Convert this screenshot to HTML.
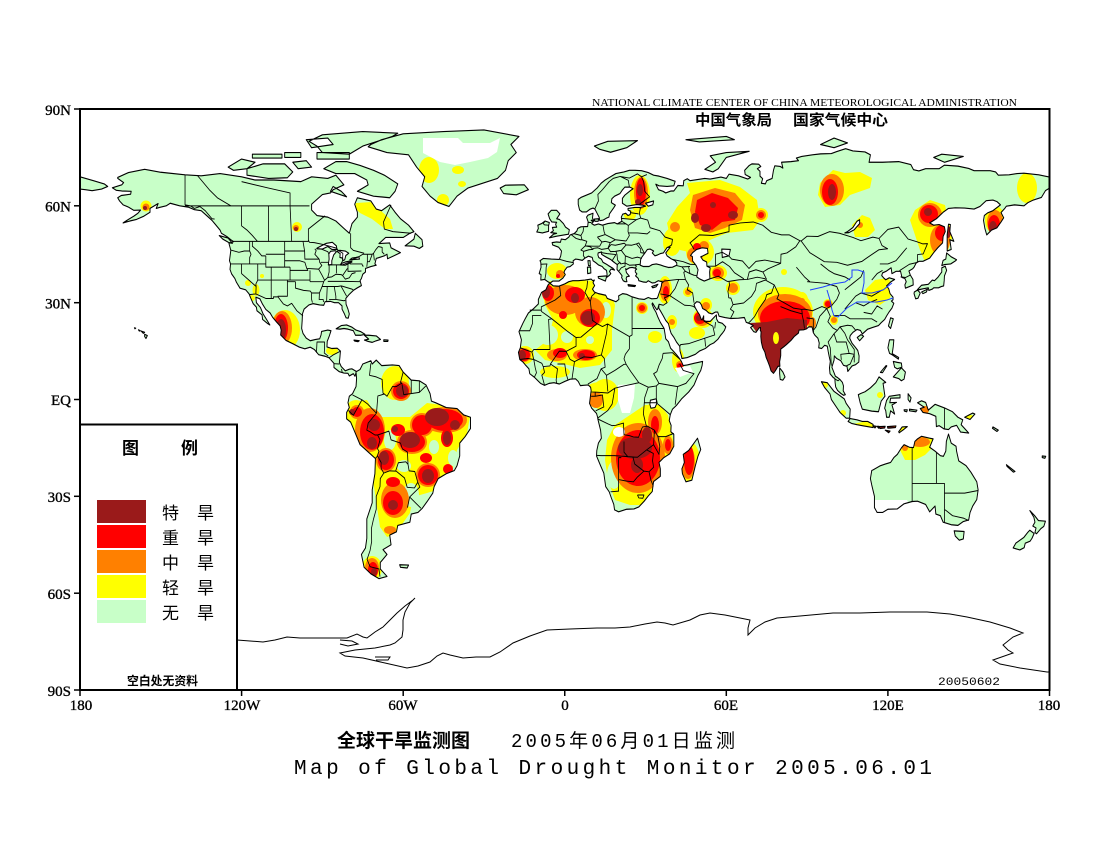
<!DOCTYPE html>
<html><head><meta charset="utf-8"><style>html,body{margin:0;padding:0;background:#fff}svg{display:block}</style></head>
<body>
<svg xmlns="http://www.w3.org/2000/svg" xmlns:xlink="http://www.w3.org/1999/xlink" width="1100" height="850" viewBox="0 0 1100 850">
<defs>
<path id="land" d="
M-5.4,36.1 -6.3,36.5 -7.5,37.2 -8.9,37 -8.8,38.7 -9.5,39 -8.8,41 -8.9,42.5 -9.2,43 -8,43.7 -5,43.5 -2,43.4 -1.5,44.5 -1.2,46 -2.3,47.2 -4.5,47.9 -4.7,48.6 -3,48.8 -1.6,48.7 -1.3,49.7 0.2,49.5 1.5,50.3 2,51 3.5,51.4 4.5,52.2 4.8,53 6,53.5 8.5,53.6 8.7,55 8.1,56.5 8.6,57.1 10.5,57.7 10.3,56.2 10.8,55.4 10,54.5 11,54 12.5,54.4 14,54 16,54.5 18.5,54.8 19.5,54.4 21.2,55.2 21,56.5 21.5,57.4 22.6,57.7 23.5,57 24.3,57.3 24.5,58.3 23.5,58.7 23.5,59.2 26,59.5 28,59.5 30,59.9 29,60.2 26.8,60.4 23,59.9 21.4,60.8 21.4,62.3 22.3,63.3 24.5,64.8 25.4,65.3 24.2,65.8 22.3,65.8 21.3,64.8 20.5,63.8 18.5,63 17.5,62.2 17.3,61 18.8,60.2 18.2,59.4 16.6,57.5 16.4,56.5 15.5,56.2 14.3,55.6 13,55.4 12.8,56.4 12,57.7 11.2,59 10.5,59.3 9.5,59 8,58.1 6.5,58.1 5.5,58.7 5,60.5 5,62 6,62.6 8,63.3 10,64 12,65.5 13.5,67 15,68 17,69 19,70 22,70.5 24,71 26,71 28.5,70.9 31,70.3 33,69.5 35,69.2 38,68.5 41,67.6 40.5,66.2 38,66 35,66.2 33.8,66.7 34.8,65 36.5,64.5 37.5,64 39.5,64.6 40.5,64.6 42,66.3 44,66.2 44.2,67.8 45.5,68.4 46.5,67.8 52,68.5 54,68.3 58,68.9 60,68.5 61,69.8 64.5,69.3 68,68.3 69,68.8 67,69.7 66.8,71 68.5,72.5 69.5,73 72,72.9 72.8,72.2 71.5,71.5 72.5,70.7 72.5,69.2 73.5,68.4 73,67 74.5,66.8 75,67.8 77,68.5 77.5,71 78,72.4 80,72.2 81,71.7 80.5,73.5 84,73.7 86.8,74 86,74.8 88,75.3 92,75.8 95,76.1 99,76.2 101,76.8 104.3,77.7 107,77 111.5,76.7 113.5,75.8 113,73.5 118,73.5 124,73.7 128.5,72.8 129.5,71.2 131.5,70.8 134,71.5 139,71.5 141,72.6 146,72.3 150,71.6 152,70.9 158,70.9 160,70.5 161,69.5 165,69.6 168,70 170.5,70.1 176,69.6 180,68.9 180,65.5 178.5,64.7 177,62.6 174,61.8 172,61 170.5,60 167,60.3 164,59.9 163.3,59.1 162,57.9 163,56.3 162,55 160.5,53.2 158.5,52.5 156.7,51 156,53 155.5,55.5 155.8,57 157,57.8 159,58.5 161.8,60.3 160.5,61.3 159,61.8 156.5,61.6 154.2,59.8 152,59 148.5,59.3 145,59.4 142.5,59.2 140.5,58 138,56 135.5,54.7 137,54 139,54.2 141,53.5 141.3,52 140.5,50.5 140.3,48.5 138.5,47 137,45.5 135.5,43.8 133,42.8 131.5,42.8 130.5,42.3 129.7,41 129.2,40.5 127.8,39.8 128.3,38.6 129.3,37.2 129.4,35.5 128,35 126.5,34.5 126.3,35.5 126.8,36.5 126.3,37.5 125.2,37.8 125,38.6 124.7,39.7 123,39.7 121.5,39 121.2,40.8 119.5,39.8 118,39.2 117.7,38.4 118.5,37.6 119.2,37.1 120.5,37.7 122.5,37.2 121,36.4 119.5,35.2 120.3,34.3 120.8,32.8 121.9,31.7 121.9,30.9 121.3,30.5 122.2,29.8 121.5,28.3 120.5,27.2 119.6,26 118.8,24.8 117.5,23.8 116.5,22.9 114.2,22.3 112.5,21.8 110.5,20.3 109.8,21.4 108.5,21.7 107,20.8 106,19.8 105.8,19 106.7,17.4 107.8,16.3 108.8,15.2 109.3,13.5 109.2,11.6 108,10.8 106.7,10.4 105.1,8.7 104.8,10.3 103.5,10.6 102.5,12 101,12.7 100.1,13.5 100,12.2 99.2,10 100,8.3 100.5,7.2 101.3,6.8 102.2,6.2 103.1,5.3 103.5,4.2 103.4,2.7 104.2,1.5 103.5,1.3 102.5,1.9 101.3,2.8 100.6,3.9 100.4,5.2 100.3,6.5 99.7,6.8 98.5,8 98.3,9.8 98.6,11.8 98.2,13.3 97.8,15 97.5,16.5 96.5,16.8 95.4,15.8 94.3,16 94.5,17.5 94,19 93,19.8 92.3,20.7 92,21.9 91.8,22.5 90.6,22.5 89.8,21.9 88.7,21.6 87,21.5 86.8,20.6 85.2,19.5 84,18.3 82.3,17 81.3,16.3 80.2,15.6 80.2,13.6 79.8,11.7 79.9,10.3 79.2,10.3 78.2,8.9 77.5,8.1 76.6,8.9 76,10.5 75.4,11.8 74.8,13 74.3,14.7 73.5,16 73,17.8 72.8,19.5 72.9,21 72.6,21.4 72.7,22.3 72.2,22.2 71,20.8 70.2,21 69,22.3 70,22.9 68.7,23.5 67.4,23.9 66.7,25.4 64.5,25.2 61.5,25.1 59.5,25.4 57.3,25.8 56.8,27.1 56,27.1 54.7,26.5 53.5,26.8 52.5,27.6 51.2,28.2 50.7,29.4 50.1,30.1 49,30.3 48.5,29.9 48,29.5 48.4,28.5 49.3,27.2 50.1,26.2 50.6,25 51,24.6 51.6,25.9 51.6,24.5 52.5,24.2 54,24.2 55.5,25.5 56.3,26.2 56.4,24.9 57,24 58.5,23.6 59.8,22.5 59.3,21.4 58.5,20.5 57.8,19.8 56.8,18.6 55.3,17.5 54,17 52.2,15.8 50,15 48.5,14 45.5,13 43.5,12.7 43.3,13.5 42.8,15 42.7,16.5 41.5,17.8 40.5,19.3 39.5,20.5 39,21.8 38.5,23.5 37.5,24.5 36.6,25.9 35.5,27.5 34.9,28.3 35,29.5 34.5,28 34.2,27.8 33.6,28.5 32.6,29.9 32.4,29.6 33,28.3 33.9,27 34.5,25.7 35.5,23.9 36.9,22 37.2,20.5 37.5,18.8 38.5,17.9 39.3,15.9 40.3,15 41.5,13.9 42.5,12.8 43.3,11.8 44,10.5 45.5,10.7 48,11.2 51.2,11.8 51,10.5 50.5,9 49.5,7.5 48,4.5 46,2.3 43.5,0.3 41.5,-1.8 40,-3 39.2,-4.7 38.8,-6.5 39.5,-8 39.4,-10 40.5,-10.8 40.5,-14.5 39,-16.8 36.8,-18 35,-19.5 35.5,-21.5 35.5,-23.8 33,-25.4 32.8,-26.5 32.5,-28.5 31,-29.9 29.5,-31.5 27.5,-33.3 25.7,-33.9 23,-34 20,-34.8 18.5,-34.2 18.2,-32.5 17.3,-30.5 16.5,-28.6 15.2,-27 14.5,-22.8 13.3,-20.5 11.8,-17.5 11.9,-15.8 12.5,-13.5 13.6,-12 13.3,-9.5 12.3,-6.1 12.2,-5.5 11.8,-4.3 10,-2.7 9.2,-1.2 9.5,0.8 9.8,2.8 9.6,3.8 8.7,4.5 7,4.4 5.8,4.3 5,5.6 4,6.4 2,6.3 0,5.6 -2,4.8 -4,5.2 -5.8,5 -7.5,4.4 -9,5 -11.3,6.9 -13,8 -13.3,9.5 -14.7,10.8 -15.5,11.6 -16.7,12.4 -17.2,14.6 -16.5,16 -16.1,18.5 -16.5,19.7 -17,21 -15.5,23.7 -14.7,25 -13.5,26.8 -11.5,28.2 -9.8,29.6 -9.8,31 -8.6,33.2 -7,34 -6.6,34.8 -6.2,35.5 -5.9,35.8 -5.3,35.9 -4.3,35.2 -2.2,35.1 0,35.8 1.5,36.5 3,36.8 5,36.8 7.5,37 9.8,37.3 10.4,36.8 11,37 10.5,36.2 11.1,35.3 10.3,34.2 11,33.3 12.5,32.8 15.2,32.3 15.8,31.3 19,30.3 20.1,31 20,32.1 21.5,32.8 23,32.6 25,31.8 27.5,31.2 29.5,31 31,31.6 32.3,31.2 34.2,31.3 34.5,31.6 35,32.9 35.5,34 35.9,35.3 36,36 36.2,36.6 35.5,36.6 34.7,36.8 33.5,36.2 32.5,36.1 31,36.8 30.3,36.3 29.2,36.4 27.5,36.8 27.3,37.5 26.3,38.3 26.8,38.9 26.2,39.5 26.2,40.1 26.7,40.4 26.2,40.7 25,40.9 24,40.8 23,40.3 22.6,40.5 22.9,39.3 24,38.2 23,38 22.8,37.5 23.1,36.5 22.4,36.5 21.7,36.8 21.1,37.8 21.3,38.3 20.7,39 20,39.7 19.4,40.3 19.5,41.8 18.5,42.4 17,43.4 15.2,44.2 14,44.8 13.6,45.1 13.7,45.7 12.4,45.4 12.3,44.8 12.6,44 13.6,43.5 14.2,42.5 15.5,41.9 16.2,41.5 17.8,40.7 18.5,40.1 17.2,40.4 16.6,39.7 17.1,39 16.5,38.4 15.7,37.9 15.7,38.9 15.5,40 14.5,40.6 13.9,41.2 12.5,41.7 11.5,42.4 10.5,43 10.2,44 8.8,44.4 7.5,43.8 6.5,43.1 5,43.4 4,43.5 3.1,43 3.2,42 2,41.2 0.9,41 0,40 -0.3,39.4 0.2,38.7 -0.7,37.6 -2.1,36.7 -4.4,36.7 Z
M-166,68.8 -162,70.3 -156,71.3 -150,70.4 -141,69.6 -135,69.3 -128,70 -120,69 -115,68 -108,68 -98,67.5 -94,69 -88,68.5 -85,69.5 -82,66.5 -86,65 -87,64 -90,63.5 -94,60.5 -94,58.7 -92,57 -88,56.5 -85,55.3 -82,53 -80,51.5 -79,54.5 -77,56.5 -77,58 -78,60.5 -77,62.5 -72,61.5 -70,59 -68,58.5 -65,60.3 -63,58 -61,56 -58,54 -56,52 -57.5,51.5 -60,50.2 -66.5,50.2 -69,48.3 -65,48.5 -64.5,47 -61,45.5 -63.5,44.5 -65.8,43.6 -66,45 -67,44.5 -70,43.7 -70.5,42 -70,41.6 -72,41.2 -74,40.6 -74,39.5 -75,38.8 -75.5,37.5 -76,36.8 -75.5,35.3 -77,34.6 -78.5,33.8 -80,32.6 -81.3,31.3 -81.2,29.5 -80.5,28 -80,26.5 -80.4,25.2 -81.2,25.3 -81.8,26.5 -82.7,28 -82.7,29 -84,30 -85.5,30 -87,30.4 -89,30.3 -89.5,29.2 -91,29.3 -93.5,29.7 -95,29.3 -96.8,28 -97.4,26.5 -97.5,24.5 -97.7,22 -97.2,20.5 -96,19 -94.5,18.2 -92.5,18.6 -91,18.8 -90.5,20 -90.3,21.1 -88,21.5 -86.8,21.3 -87.5,19.5 -88.2,18 -88.3,16.3 -86.5,15.8 -84.5,15.9 -83.3,15 -83.5,13 -83.7,11.5 -83,10.2 -81.5,8.9 -80,9.4 -79,9.5 -77.4,8.7 -77.9,7.2 -78.5,8 -80,7.3 -80.5,8.1 -82,8.2 -83.7,8.6 -85.7,9.9 -85.7,11.2 -87.5,12.9 -89,13.4 -91.4,13.9 -93,15.5 -94.5,16.2 -96.5,15.7 -98.5,16.2 -101,17.3 -103.5,18.3 -105.5,20 -105.3,21.5 -105.7,22.8 -107,24 -108.5,25.5 -109.4,26.8 -111,27.9 -112.2,29.5 -113.2,31.2 -114.7,31.7 -114.5,30 -113,28.5 -112,26.5 -110.5,24.5 -109.5,23.1 -110.3,23.5 -112.2,24.8 -112.4,26.2 -114.3,27.5 -114.5,28.6 -115.7,29.7 -116.7,31.6 -117.2,32.7 -118.5,34 -120.6,34.5 -121.9,36.3 -122.5,37.5 -123.7,38.9 -124.3,40.3 -124.1,42 -124.5,43 -124,46.2 -124.7,48.4 -123,48.9 -124,49.5 -125.5,50.5 -127.5,51.5 -128,52.5 -130,54.5 -131,55.5 -133,57 -135,58.5 -137.5,58.8 -139.8,59.6 -143,60 -146.5,60.8 -148,60 -150.5,59.5 -151.7,59.2 -151,60.7 -154,59.2 -154,58 -156.5,56.7 -159,55.8 -161.5,55.3 -164,54.7 -162,55.8 -160,56.8 -158.5,57.7 -157.5,58.7 -160,58.6 -162,59.6 -164,60.3 -165.3,61.5 -166,62.5 -164.7,63.2 -161.2,63.6 -161,64.5 -164.5,64.6 -166.5,64.8 -168,65.6 -164.5,66.5 -163.8,67.2 -166,68.5 Z
M-77.5,8.6 -76,9.3 -75,11 -72,12 -71.5,11 -70,12.2 -68,10.5 -64,10.7 -61.5,10.5 -60,8.5 -57,6 -54,5.8 -51.5,4.5 -50,1.8 -49.5,-0.5 -48,-1 -44,-2.5 -40,-2.8 -37.5,-4.8 -35,-5.5 -35,-9 -37,-11.5 -39,-13.5 -39,-17.5 -40,-20.5 -41,-22 -44,-23 -47,-24.5 -48.5,-27 -49,-29 -51,-31.5 -53,-33.8 -54.5,-35 -57,-35.5 -57.5,-38 -62,-39 -62.5,-41 -65,-42 -64.5,-45 -67.5,-46.5 -66,-48 -68.5,-50.5 -68.5,-52.5 -66,-54.8 -69,-55.5 -72,-54 -74.5,-52 -75.5,-48 -74,-46 -73.5,-43 -73.5,-39 -73.5,-37 -71.5,-32 -71.5,-28 -70.5,-23 -70.3,-18.3 -72,-17 -76,-14 -78,-10 -79.5,-7 -81,-6 -81,-4 -80,-2.5 -80.5,-1 -80,1 -78.8,1.8 -77.5,4 -77.3,6.5 Z
M-180,69 -175,67.8 -171,66.8 -169.7,66 -172,65.2 -175.5,64.7 -178,65 -180,65.2 Z
M-81,73.7 -76,72.5 -71,71 -67,69.5 -62,66.8 -63,64.5 -65,62.5 -71,63 -77,64.5 -73,66.5 -73.5,68 -78,70 -85,70 -89.5,71.5 -85,73.7 Z
M-118,71.5 -112,73 -104,73 -101,70.5 -103,68.7 -110,68.5 -118,69.5 Z
M-125,72 -120,74.5 -115,73.5 -118,71.5 -123,71 Z
M-90,76.5 -80,76 -75,78.5 -64,81.5 -62,82.5 -75,83 -90,82 -95,80 -92,78.5 Z
M-92,76.5 -80,76.5 -80,74.5 -92,74.5 Z
M-116,76 -105,76 -105,74.8 -116,74.8 Z
M-101,73.5 -96,74 -94,72 -99,71.5 Z
M-96,80.5 -88,81 -86,79 -94,78 Z
M-104,76.5 -98,76.5 -98,75 -104,75 Z
M-87,64.5 -81,62.8 -83,64.5 -86,66 Z
M-59.3,47.6 -56,49.7 -55.5,51.5 -53,49.5 -52.7,47.5 -54,46.8 -56,47.5 Z
M-128.3,50.8 -125,50 -123.4,48.4 -124.7,48.6 -127,49.7 Z
M-73,78.3 -66,76.5 -58,75.8 -55,72 -52,69 -53,66 -50,63 -47,61 -43,59.8 -40,63 -36,65.5 -25,68.5 -22,71 -21,74 -18,76.5 -20,79 -17,81.5 -30,83.5 -45,83 -60,82.3 -68,80.5 -72,79 Z
M-24,65.5 -22,66.4 -15,66.5 -13.5,65 -18,63.4 -22.7,63.8 Z
M-84.9,21.9 -83,22.9 -81,23.1 -79,22.4 -77.5,21.5 -75.7,21 -74.2,20.2 -75.8,19.9 -77.7,19.9 -78.5,21.3 -80.5,21.8 -82,22 -83.5,21.8 Z
M-74.4,19.9 -72.8,19.9 -70,19.7 -68.4,18.6 -70,18.2 -71.5,17.7 -73,18 -74.4,18.4 -72.8,18.7 Z
M-78.3,18.4 -76.3,18.2 -76.8,17.9 -78,18.1 Z
M-67.2,18.5 -65.6,18.4 -65.7,18 -67.2,18 Z
M-156,20.2 -155,19.8 -155.5,18.9 -156,19.5 Z M-157.3,21.2 -156,20.8 -156.5,20.5 Z M-158.3,21.6 -157.6,21.3 -158,21.2 Z M-159.8,22.2 -159.3,22.1 -159.6,21.9 Z
M-61.3,-51.2 -58,-51.3 -58.5,-52.2 -61,-52 Z
M-5.7,50.1 -3,50.6 1.4,51.2 1.7,52.6 0.3,53.4 -0.5,54.5 -2,55.8 -3,56 -1.8,57.5 -3,58.6 -5,58.6 -6.2,57.5 -5.6,56 -4.8,55 -3,54.9 -3.4,54.3 -3,53.4 -4.6,53.3 -4.2,52.3 -5.2,51.7 -3,51.5 -4.2,51.2 Z
M-6,52.1 -6,53.9 -5.7,54.8 -7.3,55.3 -8.6,54.5 -10,54 -9.8,53 -10.4,51.9 -8.3,51.6 Z
M11,78.5 16,80 27,80.2 23,78 17,76.6 13,77.5 Z
M52,71.3 56,73.5 54,75.5 60,76.5 68.5,76.9 60,75 57,71.5 55,70.5 Z
M95,79 100,81 105,79.5 100,78 Z
M137,75 140,76 148,75.3 141,73.5 Z
M45,80.5 60,81.5 63,80.5 50,79.8 Z
M8.4,41 9.6,41 9.7,39.2 8.5,39 Z M8.6,43 9.4,43 9.5,41.4 8.8,41.5 Z M12.4,38.1 15.6,38.3 15.1,36.7 12.5,37.6 Z M23.5,35.6 26.3,35.3 26,35 23.6,35.2 Z M32.3,35 34.6,35.7 33.9,34.9 32.7,34.6 Z M11,55.9 12.6,56 12.4,55.2 11.2,55.2 Z M9.8,55.5 10.8,55.6 10.6,55 Z
M142,46 143.5,46.5 143,49.5 144.5,49 143,52 143.2,54.2 142.5,54.3 142,51 142,48 Z
M130.9,34 132.5,35.4 135,35.7 136.5,37 137.3,36.8 138.5,37.8 140,39.5 140,40.8 141.3,41.3 141.8,40 141,38.3 140.9,36.8 140.7,35.2 139.8,35 138.8,34.6 137,34.6 136.5,34.2 135.2,33.8 135,34.6 133,34.3 131.5,34 Z
M129.8,33.3 131,33.9 132,33 131.2,31.4 130.3,31.2 129.7,32.8 Z
M132.5,33.3 134.7,34.2 134.3,33.3 133,32.8 Z
M140,41.5 140.5,43.1 141.5,43.5 141.8,45.4 143.5,44.2 145.5,43.3 145,42.9 143.3,42 141,41.8 Z
M121,25.3 122,25 121,22 120.2,22.8 Z
M108.6,19.2 110,20.1 111,19.6 109.5,18.2 Z
M79.8,9.8 81,8.5 81.8,7 81,6 80,6.2 79.8,8 Z
M120.6,18.5 122.2,18.5 122,16.5 121.6,14.2 124,13 123.9,12.5 121.7,13.8 120.6,14.3 120,16 Z
M122,7 125,9.8 126.5,8.5 126,6.3 125,5.8 124,6.5 Z
M122,11.8 123.5,11.5 125,11.3 125.2,10 123.5,9.5 122.5,10 Z
M117.2,8.4 119.3,10.5 119.6,10.4 118,8.3 Z
M109,1.5 109.7,-1 110.5,-3 114,-3.6 116.5,-3.8 117.5,-0.5 118.9,1 118.2,5 119.2,5.3 116.7,7 115.5,5.2 113.5,3.6 111.5,2.4 110,1.9 Z
M95.3,5.5 97.5,5.2 100,2.5 103.8,0.2 104.5,-1.2 106,-3 105.8,-5.8 104.5,-5.8 102.2,-4 101,-2.5 99,0 98.5,1.7 96.5,3.7 Z
M105.2,-6.8 106,-5.9 108.5,-6.3 110.5,-6.8 112.5,-6.8 114.5,-7.7 114.5,-8.7 111,-8.2 108.5,-7.8 106.5,-7.4 Z
M114.4,-8.1 115.7,-8.3 115.2,-8.8 Z M116,-8.3 116.7,-8.3 116.5,-8.9 Z M116.8,-8.4 119,-8.3 118.8,-8.8 117,-9 Z M119.8,-8.4 123,-8.2 122.8,-8.7 120,-8.9 Z M119,-9.5 120.8,-9.8 120.3,-10.3 Z
M124,-10 125.3,-8.5 127.2,-8.4 126,-9.2 124.2,-10.3 Z
M118.8,-2.7 119.5,-0.3 120.5,1 124.5,1.5 124.5,0.5 121,0.4 120.7,-1 123.2,-0.9 121.5,-1.7 122.5,-4.5 121,-3.5 120.5,-5.5 119.5,-5.5 119.2,-3.5 Z
M127.5,1.8 128.6,0.5 128.2,-0.8 127.5,0 Z M128,-3 130.8,-3.3 130.4,-3.8 128,-3.5 Z M126,-3.2 127.2,-3.2 127,-3.8 126.1,-3.6 Z
M131,-1 132.5,-0.4 134,-0.9 135,-3.3 137.5,-1.5 141,-2.6 144,-3.8 146,-5.5 147.8,-6.3 147.2,-7.8 148.5,-9 150,-10.4 147,-10.1 145.5,-8 143.5,-8.5 142.5,-9.3 140.8,-9.1 139,-8.1 138,-8.4 137.8,-5.2 135.5,-4.4 133,-4 132,-2.8 133.5,-2.4 Z
M148.5,-5.5 151.5,-4.2 152.3,-4.5 150.5,-6.2 Z M159,-8.5 161,-9.5 160.5,-9.9 158.8,-8.9 Z M164,-20.2 167.2,-22.3 166.6,-22.5 164.2,-20.7 Z M177.3,-17.5 178.6,-17.6 178.3,-18.2 177.3,-18 Z
M114,-22 113.5,-24.5 114,-26.5 115,-30 115,-33.5 116,-35 118,-35 120,-34 123.5,-33.9 126,-32.3 129,-31.6 131,-31.5 134,-32.5 135.5,-34.8 137.5,-33 137.8,-35.5 139.5,-36 140.5,-38 143.5,-38.8 146,-39 148,-37.8 150,-37.3 150.5,-35 151.5,-33 153,-31 153.5,-28 153,-25.5 150.8,-22.5 149,-20.5 146.3,-19 145.5,-16 145.3,-14.5 143.5,-13.5 142.5,-10.7 141.7,-13 141.5,-16 140.6,-17.6 139.5,-17.4 137.5,-16 135.5,-14.8 136.8,-12.2 135.5,-12 132.5,-11.4 131,-12.2 130,-13 129.5,-14.9 128,-14.8 126,-14 125,-15 123.5,-17 122.2,-18 121,-19.5 119,-20 117,-20.6 114.5,-21.8 Z
M144.6,-40.7 148.3,-40.9 148,-43.2 146.5,-43.6 145,-42.3 Z
M172.7,-34.4 174.5,-36 175.9,-37.5 178.5,-37.7 177.9,-39.3 176.8,-40 175.2,-41.6 174.6,-41.2 175,-39.8 173.8,-39.2 174.6,-38 174.2,-36.5 Z
M172.7,-40.5 174.3,-41.5 173.5,-43 172.8,-43.9 171,-44.5 170.6,-45.9 169,-46.6 166.5,-46 167.5,-44.5 170.5,-42.7 172,-41.1 Z
M49.3,-12 50.5,-15.5 49.5,-17.5 48.5,-20.5 47.2,-25 45,-25.5 43.7,-23 43.5,-21.5 44.4,-19.5 44,-17 46,-15.8 48,-13.5 Z
"/>
<clipPath id="lc"><use xlink:href="#land" transform="matrix(2.693 0 0 -3.2278 564.75 399.5)"/></clipPath>
</defs>

<rect width="1100" height="850" fill="#fff"/>

<use xlink:href="#land" transform="matrix(2.693 0 0 -3.2278 564.75 399.5)" fill="#c8ffc8"/>

<g clip-path="url(#lc)">
<g fill="#ffff00">
<circle cx="146" cy="206" r="5.5"/><circle cx="297" cy="227" r="5"/>
<polygon points="356,203 372,202 379,209 390,219 393,229 385,229 372,219 360,213 355,208"/>
<ellipse cx="429" cy="170" rx="10" ry="13"/><ellipse cx="458" cy="170" rx="6" ry="4"/><ellipse cx="462" cy="184" rx="4" ry="3"/><ellipse cx="443" cy="200" rx="6" ry="6"/>
<circle cx="248" cy="283" r="3"/><ellipse cx="256" cy="290" rx="3.5" ry="6"/><circle cx="252" cy="298" r="3"/><circle cx="262" cy="276" r="2"/>
<ellipse cx="285" cy="330" rx="15" ry="20"/><ellipse cx="332" cy="351" rx="6" ry="4"/>
<ellipse cx="395" cy="383" rx="14" ry="17"/><ellipse cx="356" cy="410" rx="10" ry="10"/>
<polygon points="347,403 367,400 377,417 410,417 427,403 457,407 470,417 467,433 457,450 453,467 450,480 437,490 427,493 413,497 410,513 403,523 397,533 387,537 380,527 377,507 373,480 367,460 357,443 347,423"/>
<ellipse cx="372" cy="568" rx="10" ry="12"/>
<ellipse cx="557" cy="271" rx="10" ry="8"/>
<polygon points="540,282 570,280 600,281 610,290 615,305 612,330 612,350 600,365 580,368 560,363 545,360 535,350 548,340 553,320 545,305"/>
<circle cx="525" cy="355" r="9"/><ellipse cx="555" cy="372" rx="15" ry="6"/><ellipse cx="600" cy="392" rx="15" ry="10"/><ellipse cx="605" cy="395" rx="14" ry="16"/>
<circle cx="642" cy="308" r="6"/><ellipse cx="655" cy="337" rx="7" ry="6"/><ellipse cx="678" cy="360" rx="6" ry="12"/>
<ellipse cx="665" cy="290" rx="7" ry="14"/><ellipse cx="672" cy="322" rx="5" ry="7"/><circle cx="703" cy="318" r="10"/><ellipse cx="697" cy="333" rx="8" ry="6"/>
<ellipse cx="706" cy="305" rx="6" ry="7"/><circle cx="688" cy="292" r="5"/><circle cx="700" cy="252" r="14"/><ellipse cx="718" cy="273" rx="9" ry="8"/><circle cx="733" cy="288" r="7"/>
<ellipse cx="652" cy="422" rx="15" ry="18"/>
<polygon points="607,440 615,425 627,417 645,405 660,405 668,415 672,435 675,450 668,470 662,490 650,505 630,505 615,500 608,480 605,460"/>
<ellipse cx="690" cy="462" rx="10" ry="20"/>
<ellipse cx="640" cy="195" rx="10" ry="20"/><ellipse cx="630" cy="215" rx="6" ry="5"/>
<polygon points="687,183 720,180 740,187 757,200 760,220 753,230 727,233 717,237 703,243 693,253 680,250 670,237 667,223 677,207 690,193"/>
<ellipse cx="672" cy="242" rx="9" ry="14"/><circle cx="761" cy="215" r="7"/>
<polygon points="820,183 833,170 845,173 860,172 872,178 870,188 850,195 840,205 825,207 818,195"/>
<polygon points="852,225 862,215 870,218 875,230 868,237 855,237"/>
<polygon points="915,210 930,200 945,205 948,220 953,235 948,250 935,262 925,262 920,250 915,235 910,220"/>
<ellipse cx="995" cy="220" rx="10" ry="14"/><ellipse cx="1027" cy="188" rx="10" ry="15"/>
<ellipse cx="783" cy="312" rx="30" ry="25"/><ellipse cx="802" cy="300" rx="6" ry="8"/><circle cx="828" cy="304" r="5"/><ellipse cx="834" cy="320" rx="4" ry="5"/><circle cx="784" cy="272" r="3"/>
<polygon points="865,290 875,280 888,278 893,285 890,298 880,305 868,300"/>
<ellipse cx="880" cy="427" rx="30" ry="6"/><circle cx="825" cy="385" r="3"/><circle cx="843" cy="413" r="3"/><circle cx="880" cy="395" r="3"/><ellipse cx="970" cy="423" rx="7" ry="8"/>
<polygon points="900,450 910,440 920,437 933,437 935,445 925,455 915,460 905,460"/>
</g>
<g fill="#c8ffc8">
<ellipse cx="390" cy="440" rx="6" ry="10"/><ellipse cx="404" cy="466" rx="7" ry="6"/><ellipse cx="434" cy="447" rx="5" ry="7"/><ellipse cx="411" cy="495" rx="8" ry="12"/><ellipse cx="453" cy="458" rx="5" ry="8"/>
<ellipse cx="548" cy="335" rx="10" ry="10"/><circle cx="567" cy="337" r="6"/><circle cx="590" cy="340" r="4"/><ellipse cx="606" cy="310" rx="5" ry="8"/>
<ellipse cx="614" cy="475" rx="7" ry="14"/>
</g>
<g fill="#ff8000">
<circle cx="146" cy="207" r="3.5"/><circle cx="296" cy="228" r="3"/><ellipse cx="282" cy="328" rx="10" ry="17"/>
<circle cx="401" cy="391" r="10"/><circle cx="357" cy="412" r="7"/><ellipse cx="445" cy="420" rx="22" ry="13"/><ellipse cx="370" cy="430" rx="15" ry="22"/><ellipse cx="386" cy="460" rx="10" ry="12"/><ellipse cx="412" cy="442" rx="15" ry="12"/><circle cx="422" cy="425" r="12"/><circle cx="428" cy="475" r="12"/><ellipse cx="395" cy="500" rx="14" ry="18"/><ellipse cx="390" cy="530" rx="6" ry="4"/><ellipse cx="372" cy="568" rx="7" ry="10"/>
<circle cx="560" cy="274" r="4"/><ellipse cx="565" cy="300" rx="20" ry="15"/><ellipse cx="590" cy="312" rx="15" ry="15"/><ellipse cx="557" cy="355" rx="10" ry="6"/><ellipse cx="585" cy="355" rx="12" ry="6"/><circle cx="524" cy="355" r="7"/><circle cx="593" cy="397" r="4"/><ellipse cx="596" cy="400" rx="7" ry="8"/>
<circle cx="642" cy="308" r="5"/><circle cx="680" cy="365" r="4"/><ellipse cx="665" cy="290" rx="5" ry="11"/><circle cx="672" cy="322" r="3"/><circle cx="702" cy="318" r="8"/><circle cx="706" cy="306" r="4"/><circle cx="688" cy="292" r="3"/><circle cx="695" cy="255" r="8"/><circle cx="704" cy="246" r="5"/><circle cx="718" cy="273" r="6"/><circle cx="733" cy="288" r="5"/>
<ellipse cx="638" cy="458" rx="27" ry="35"/><ellipse cx="655" cy="422" rx="7" ry="13"/><ellipse cx="668" cy="445" rx="5" ry="9"/><ellipse cx="688" cy="462" rx="7" ry="17"/>
<ellipse cx="641" cy="193" rx="7" ry="16"/>
<polygon points="693,195 715,188 735,193 745,205 742,220 725,228 710,233 695,228 690,210"/><circle cx="675" cy="227" r="5"/><circle cx="761" cy="215" r="5"/>
<ellipse cx="832" cy="190" rx="12" ry="16"/><circle cx="860" cy="225" r="3"/><circle cx="930" cy="215" r="12"/><ellipse cx="940" cy="240" rx="10" ry="15"/><ellipse cx="995" cy="222" rx="8" ry="12"/>
<ellipse cx="785" cy="314" rx="27" ry="20"/><circle cx="802" cy="301" r="3"/><circle cx="828" cy="304" r="4"/><circle cx="834" cy="320" r="3"/><ellipse cx="812" cy="323" rx="4" ry="6"/>
<ellipse cx="920" cy="442" rx="10" ry="5"/><circle cx="905" cy="448" r="3"/><circle cx="925" cy="410" r="4"/>
</g>
<g fill="#ff0000">
<ellipse cx="281" cy="328" rx="7" ry="14"/>
<circle cx="401" cy="391" r="8"/><circle cx="357" cy="412" r="5"/><ellipse cx="445" cy="420" rx="18" ry="11"/><ellipse cx="372" cy="432" rx="12" ry="18"/><ellipse cx="386" cy="460" rx="8" ry="10"/><ellipse cx="412" cy="442" rx="13" ry="10"/><circle cx="422" cy="425" r="10"/><circle cx="428" cy="475" r="10"/><ellipse cx="426" cy="458" rx="6" ry="5"/><circle cx="448" cy="469" r="5"/><ellipse cx="447" cy="438" rx="6" ry="9"/><ellipse cx="398" cy="430" rx="7" ry="6"/><ellipse cx="393" cy="503" rx="10" ry="12"/><ellipse cx="393" cy="482" rx="7" ry="5"/><ellipse cx="373" cy="570" rx="5" ry="8"/>
<circle cx="558" cy="276" r="2"/><ellipse cx="548" cy="293" rx="6" ry="8"/><ellipse cx="575" cy="295" rx="10" ry="8"/><ellipse cx="590" cy="318" rx="10" ry="9"/><ellipse cx="560" cy="353" rx="7" ry="5"/><ellipse cx="586" cy="355" rx="9" ry="5"/><circle cx="563" cy="315" r="4"/><circle cx="524" cy="355" r="6"/>
<circle cx="642" cy="308" r="3"/><circle cx="680" cy="366" r="3"/><ellipse cx="666" cy="292" rx="3" ry="6"/><circle cx="700" cy="318" r="6"/><circle cx="697" cy="247" r="4"/><circle cx="717" cy="273" r="4"/>
<ellipse cx="638" cy="458" rx="22" ry="28"/><ellipse cx="655" cy="425" rx="4" ry="9"/><ellipse cx="668" cy="445" rx="3" ry="6"/><ellipse cx="689" cy="460" rx="5" ry="15"/>
<ellipse cx="641" cy="192" rx="5" ry="14"/>
<polygon points="697,200 712,193 728,198 738,208 735,220 722,222 712,230 700,225 695,212"/><circle cx="761" cy="215" r="3"/>
<ellipse cx="830" cy="192" rx="8" ry="13"/><circle cx="929" cy="214" r="9"/><ellipse cx="942" cy="233" rx="7" ry="8"/><ellipse cx="994" cy="225" rx="6" ry="10"/>
<ellipse cx="785" cy="318" rx="25" ry="17"/><circle cx="828" cy="304" r="3"/>
<ellipse cx="885" cy="429" rx="15" ry="3"/>
</g>
<g fill="#9a1a1a">
<circle cx="145" cy="208" r="2"/><circle cx="296" cy="229" r="2"/><ellipse cx="281" cy="330" rx="5" ry="11"/>
<circle cx="402" cy="391" r="6"/><circle cx="352" cy="412" r="3"/><ellipse cx="437" cy="417" rx="12" ry="9"/><circle cx="455" cy="425" r="5"/><circle cx="374" cy="425" r="6"/><ellipse cx="372" cy="443" rx="5" ry="6"/><ellipse cx="384" cy="458" rx="5" ry="7"/><ellipse cx="410" cy="440" rx="10" ry="8"/><ellipse cx="428" cy="476" rx="6" ry="7"/><ellipse cx="447" cy="438" rx="4" ry="7"/><circle cx="395" cy="429" r="3"/><circle cx="393" cy="505" r="5"/><ellipse cx="374" cy="572" rx="3" ry="4"/>
<ellipse cx="546" cy="292" rx="4" ry="6"/><ellipse cx="575" cy="298" rx="4" ry="5"/><ellipse cx="588" cy="318" rx="7" ry="7"/><circle cx="582" cy="356" r="3"/><ellipse cx="522" cy="355" rx="4" ry="5"/>
<circle cx="699" cy="318" r="3"/>
<ellipse cx="635" cy="448" rx="17" ry="11"/><ellipse cx="647" cy="435" rx="5" ry="8"/><ellipse cx="637" cy="465" rx="6" ry="8"/><circle cx="658" cy="485" r="3"/>
<ellipse cx="640" cy="190" rx="3" ry="6"/><circle cx="638" cy="202" r="3"/>
<ellipse cx="695" cy="218" rx="4" ry="5"/><ellipse cx="706" cy="228" rx="5" ry="4"/><ellipse cx="733" cy="215" rx="5" ry="4"/><circle cx="713" cy="205" r="3"/>
<ellipse cx="832" cy="192" rx="4" ry="8"/><circle cx="928" cy="212" r="4"/><circle cx="935" cy="222" r="3"/><ellipse cx="948" cy="232" rx="3" ry="6"/><ellipse cx="993" cy="228" rx="4" ry="7"/>
<polygon points="750,323 767,322 787,318 807,320 807,330 793,343 787,357 773,373 760,357 760,337"/>
<ellipse cx="885" cy="429" rx="12" ry="3"/>
</g>
<g fill="#ffff00"><ellipse cx="776" cy="338" rx="3" ry="6"/></g>
<g fill="#fff">
<polygon points="423,138 458,138 463,143 490,143 500,138 497,152 488,158 470,162 455,165 440,162 423,153"/>
<polygon points="618,385 635,384 634,398 630,413 622,413 618,400"/><ellipse cx="619" cy="432" rx="6" ry="5"/>
<polygon points="675,368 690,366 693,372 680,377"/>
<polygon points="874,500 907,500 910,506 908,516 874,516"/>
</g>
</g>

<g transform="matrix(2.693 0 0 -3.2278 564.75 399.5)" fill="#fff" stroke="#000" stroke-width="0.36" stroke-linejoin="round">
<path d="M28,41.6 28.2,43.4 28.7,44.2 29.6,45.2 30.7,46.5 31.7,46.6 33,46 32.5,45.4 33.5,44.5 34.5,44.8 35.5,45.2 36.6,45.4 38,47.1 39.2,47.2 38.2,46.2 37.5,45.4 38,44.5 39.5,43.6 40.9,43 41.6,42.3 41.6,41.6 40,41 38.5,40.9 36.8,41.3 35.5,41.7 34,42 32.5,41.8 31.3,41.2 29.2,41.2 Z
M47.5,45.5 49,46.5 51,47 53,46.8 53.2,45.3 51.3,44.5 50.5,44.2 51.3,43.2 52.7,42.6 52.8,41.3 54,40.8 53.8,39.5 53.9,37.4 51.8,36.7 50,37.4 49,38 49.5,40.2 48.8,41.5 47.5,42.9 47.4,44.3 46.7,44.6 Z
M58.3,46.6 61.5,46.5 61,44.5 58.5,44 Z
M-92.1,46.7 -90,46.6 -88,47.4 -86.5,46.5 -84.6,46.5 -84.8,47.6 -86.3,48.7 -88.5,48.4 -89.5,48 -92,46.9 Z
M-87.8,41.7 -87.5,43.5 -87.6,45.1 -87,45.9 -85.2,46.1 -84.8,45.8 -85.8,44.8 -86.5,43 -86.5,41.8 Z
M-84.5,46 -83.5,46.2 -81.5,46 -80.2,45.3 -81.3,44.6 -81.7,43.3 -82.4,43 -82.5,43.8 -83.5,44 -83.4,45.2 -84.3,45.7 Z
M-83.4,41.7 -81.5,41.6 -79,42.6 -79.8,42.9 -81.5,42.6 -83,42.1 Z
M-79.8,43.3 -78,43.4 -76.2,43.5 -76.5,44.2 -77.5,44 -79,43.8 Z
M104,51.6 105.5,51.7 107.5,52.6 109.5,54.5 109.5,55.7 108.5,55.2 107,53.3 105,52 Z
M31.8,-0.2 34,0.2 34.3,-1 33.5,-2.5 32,-2.7 31.6,-1.5 Z
M30,60.8 33,61.5 32.7,60.3 31,59.9 Z"/>
</g>

<g transform="matrix(2.693 0 0 -3.2278 564.75 399.5)" fill="none" stroke="#000" stroke-width="0.3" stroke-linejoin="round">
<path d="M-141,69.6 -141,60.3 -139,60 -137.5,59.2 -135.5,59.8 -133.5,58.5 -131,56 -130,55.9
M-123.3,49 -95.2,49 -95.2,49.4 -94.8,48.7 -93,48.6 -89.6,48 -84.8,46.9 -84.1,46.2 -82.4,45.3 -82.5,43 -83.1,42 -82.7,41.7 -79.1,42.8 -79,43.3 -76.5,44.2 -75,45 -71.5,45 -71,45.3 -70.2,46.4 -69.2,47.4 -67.8,47.1 -67.8,45.7 -67,45
M-117.1,32.5 -114.7,32.7 -111,31.3 -108.2,31.3 -108.2,31.8 -106.5,31.8 -104.5,29.6 -103,29 -101.4,29.8 -99.5,27.5 -97.2,25.9
M-117,49 -117,46 -116.5,45 -117,44 -117,42 M-124.2,42 -111,42 M-124,46.3 -121,45.6 -119,46 -116.9,46
M-116,49 -116,47.5 -114,46 -112.5,44.5 -111,44.5 M-111,45 -104,45 M-111,44.5 -111,41 -102,41
M-114,42 -114,37 -114.7,35.8 -114.6,35 -114.7,32.7 M-120,42 -120,39 -114.6,35
M-109,41 -109,31.3 M-114,37 -94.6,37 M-104,41 -104,49 M-102,41 -102,37 M-102,40 -95.3,40
M-104,43 -98.5,43 -96.5,42.5 M-104,46 -96.6,46 M-97.2,49 -96.6,46 -96.5,43.5 -91.2,43.5
M-95.8,40.6 -91.5,40.4 M-96.5,42.5 -95.8,40.6 -95.3,40 M-94.6,40 -94.6,36.5
M-103,37 -103,32 -106.6,32 M-100,36.5 -100,34.5 -97,33.8 -94.5,33.6 -94,33 -94,31 -93.7,30 M-103,36.5 -100,36.5
M-94.6,36.5 -89.5,36.5 M-88,36.6 -81.7,36.6 -75.9,36.5 M-94,33 -91.2,33
M-91.2,43.5 -91,42.5 -90.2,41.5 -91.4,40.4 -90.2,38.6 -89.2,37 -89.5,36.5 -90.1,35 -91.1,33 -91.2,31 -89.7,31 -89.6,30.2
M-88.2,35 -88.4,31 -88.4,30.4 M-85.6,35 -85,32 -85,31 -87.5,31 M-85,31 -82,30.6 -81.5,30.7
M-90,35 -84.3,35 -83,35.2 M-83,35 -81,32 M-83,35.2 -79,34.2 -78.5,33.9
M-89.1,37 -88,37.8 -86.5,38 -85,38.8 -83,38.7 -82.5,38.4 -80.7,40.6 M-87.5,41.7 -87.5,39.5 -88,37.8 M-84.8,41.7 -84.8,39.1 M-87.5,41.7 -83.4,41.7
M-90.6,42.5 -87.8,42.5 M-92.8,46.7 -92.3,46.1 -92.8,45 -91.2,43.5 M-90.4,46.6 -88,45.8 -87.6,45.1
M-80.5,42 -80.5,39.7 -75.5,39.8 M-79.8,42 -75.3,42 -75.1,41.4 -74.7,41.3 M-82.5,38.4 -81.5,37.3 -80,37.7 -79,39 -77.7,39.3
M-73.3,45 -73.3,42.7 -73.5,41.1 M-71.5,45 -72.5,42.7 -73.3,42.7 M-71,45.3 -70.7,43.1
M-141,60 -102,60 M-120,60 -120,53.8 -118,52.5 -116,50.8 -114.1,49 M-110,60 -110,49 M-102,60 -101.4,49 M-102,60 -94.8,60 M-95.2,49 -95.2,52.8 -89,56.9 M-79.5,51.5 -79.5,47 -78.5,46.2 -74.5,45.3
M-136.5,69.5 -132,65 -129,62.5 -124,60 M-102,60 -102,64 -110,65.5 -120,67.5 M-57.1,51.5 -63.8,52 -67,52.8 -67.3,55 -64.5,60.3
M-92.2,14.5 -92,17.8 -89.2,17.8 -89.2,15.9 -89.3,14.4 -87.8,13.4 M-83.2,15 -86,13.8 -87.5,12.9 M-83.7,11 -85.7,11.1 M-82.9,9.5 -82.6,8.3
M-72,11.2 -72.5,7.5 -70,7 -67.8,6.2 -67.5,2 -67,1.7 M-69.9,-4.2 -69.4,1.1 -67,1.7 -66,1 -64,4 -62.5,4 -60.5,5.1 -59.8,1.5 -56.5,1.9 -54,2.2 -51.6,4.2
M-60,8.5 -61,5.3 -60.5,5.1 M-57,6 -57,2 M-54,5.7 -54,2.2
M-69.9,-4.2 -73,-7.3 -73.5,-9.5 -72.3,-10 -70.5,-11 -69.5,-11 -65.3,-9.8 -64.5,-12.5 -61,-13.5 -60.3,-15.3 -58.4,-16.3 -58.2,-20.1 -57.8,-22.1 -55.7,-22.3 -54.6,-25.6 -53.8,-27.1 -57.6,-30.2 -53.4,-33.7
M-80.3,-3.4 -78.5,-4.9 -75.3,-0.1 -78.8,1.4 M-75.3,-0.1 -73.2,-1.4 -70,-4.2
M-69.5,-11 -68.6,-12.5 -69.5,-15.3 -69,-16 -69.6,-17.6 -70.4,-18.3
M-69.5,-17.5 -68.2,-19.5 -68.2,-21.3 -67.2,-22.8 -68.5,-24.5 -68.6,-27 -70,-30 -70,-34 -71,-37 -71.8,-40 -71.7,-44 -72.3,-46.8 -73.4,-49.5 -72.3,-51.8 -69,-52.5 -68.6,-54.9
M-67.2,-22.8 -65,-22.1 -62.8,-22.2 -61.8,-19.6 -59,-19.3 -58.2,-20.1 M-62.6,-22.2 -59.5,-24.3 -58.5,-27.2 -55.8,-27.4 -54.6,-25.6 M-57.6,-30.2 -58.4,-33.5
M-1.9,35 -1.5,32.2 -3.6,30.8 -8.7,28.7 -8.7,27.3 -4.8,25 1.2,21 4.2,19.2 6,19.3 12,23.5 10.3,24.5 9.5,30.3 7.5,33.2 8.2,34.6 8.5,36.8
M-8.7,27.7 -13,27.7 M-8.7,26 -12,26 -12,23.5 -13,21.3 -17,21.3 M-4.8,25 -6,24.8 -5.5,16.5 -5.5,15.5 -11.5,15.5 -12.2,14.7 -16.5,16
M-12.2,14.7 -11.5,12.4 -13.7,12.7 -16.7,12.4 M-11.5,12.4 -8.5,11.2 -8,10.2 -7.5,8.4 -8.5,7.5 -7.5,4.4 M-11.5,12.4 -11,10 -10.5,8.3 -11.3,6.9
M4.2,19.2 4.2,16.5 0.5,14.9 -2,15 -5.3,11 -2.7,9.5 -3.2,6 -3,5 M-5.3,11 -5.5,10.4 -8,10.2 M-2.7,11 0,11 0.5,8 1.2,6.1
M0.5,14.9 2,12.4 3.6,11.7 2.7,6.4 M3.6,11.7 7,13.2 10,13 13.6,13.8 M12,23.5 14,22.6 15.9,23.4 15.5,20.5 13.6,13.8
M11.5,33.2 10,32 9.5,30.3 M25,31.7 25,22 36.9,22 M15.9,23.4 24,19.5 25,20 25,22 M24,19.5 24,15.7 22.5,14 22,12.6 22.8,10.9
M13.6,13.8 14.7,12.7 15,10 13.5,9.5 15.5,7.5 18.6,9 22,10.9 22.8,10.9 M8.6,4.8 12,6.5 13.5,9.5 M15.5,7.5 16,2.5
M9.8,2.3 11.3,2.3 16,2 M11.3,2.3 11.3,1 9.8,1 M11.3,1 14,1.4 14.5,-2.3 11.5,-3.5
M16,2 18.6,3.5 22,4.2 27.5,5.2 31,3.8 M22.8,10.9 24.5,8.7 27.5,5.2 M18.6,3.5 17.6,-1.4 16,-3.4 12.2,-5.8
M12.2,-6 16.2,-7.6 17.6,-8.1 19,-8 21.8,-7.3 22,-10.9 24,-11.2 25.5,-11.6 27.4,-11.7 28.5,-9.2 28.9,-8.5 30.8,-8.3
M31,3.8 29.7,0.6 29.5,-1.4 29.2,-4.5 30.3,-8.2 M34,4.2 34,-1 M31,3.8 34,4.2 35,5 41.9,4 41,-1.6 M29.5,-1 34,-1 39.2,-4.7
M36.5,14.3 36.2,12.7 35,10.6 34.2,8.6 33,8 35,5 M36.5,14.3 40,14.5 42.7,12.5 M42.7,11 44,9 48,8 45,5 41.9,4
M40.5,-10.5 37.5,-11.5 34.6,-11.5 M34.6,-11.5 33.3,-9.5 30.8,-8.3 M33.3,-9.5 33,-14 35,-17 35.3,-14.5 34.6,-11.5
M33,-14 30.4,-15.6 27,-17.9 25.3,-17.8 M22,-13 22,-16.3 23.4,-17.7 25.3,-17.8 M11.8,-17.3 13.5,-17.4 18.5,-17.4 23.4,-17.7
M20,-22 20,-24.8 20,-28.4 17,-28.6 M25.3,-17.8 26,-20 29.4,-22.2 M20,-24.8 23,-25.3 25.5,-25.5 27,-24 29.4,-22.2 31.3,-22.4
M30.4,-15.6 32.9,-16.7 32.6,-19 33,-21 31.3,-22.4 32,-25 32.9,-26.9 M21,-18 20,-18 20,-22 M27,-29.6 29.4,-29.6 29,-30.6 27.5,-30.5 27,-29.6
M36,36 37,36.7 42,37.2 44.8,37.2 44.2,39.4 44.8,39.7 43.5,41.1 41.5,41.5 M42.3,37.1 41,34.4 39,32.2
M35.5,32.7 39,32.2 37,31.5 38,30 36.6,29.2 35,29.5 M39,32.2 44.5,29.2 46.5,29.1 47.6,28.9 48.4,28.5 M44.8,37.2 46,35.5 45.5,34 47.5,33 48,30
M42.8,16.5 43,17 46,17.3 52,19 55.7,20 55,22.7 51.6,24.3 M52,19 52.3,16.4 M56,24 55.7,22
M61,36.6 61.2,35.5 60.6,33.5 60.9,31.5 61.7,31.4 62.5,29.4 61.5,28 62.8,27.2 61.6,25.2 M44.8,39.7 46.5,39 48,38.5 48.9,38.4 M54,37.4 57,38.2 60.3,36.6 61,36.6
M62.5,29.4 66.4,29.9 69.3,31.9 70.8,33.9 71.2,36 74.5,37 M61,36.6 64.8,37.1 67.8,37.2 71.5,37.9 74.5,37.4
M74.5,37 77.8,35.5 76.8,33 75,32.5 74.5,31 72,28 70.5,25.7 69,24.3 68.2,23.7
M77.8,35.5 79.5,32.5 78.8,31.2 81,30.2 85,28.3 88,27.9 89,28 92,27.5 95.5,28.8 97.3,28.2 M80.1,28.8 84,27.5 88.2,26.5 88,27.9
M88.1,26.4 88.7,24.2 89,22 M89.8,25.3 92.3,25 92.3,22.5 92.4,20.8 M97.3,28.2 94.7,25.8 93.3,22.5 92.4,21.5
M97.3,28.2 98.6,25.8 97.7,24.1 99.5,22.2 101.2,21.4 102.2,22.5 105,23 106.7,22.8 108,21.5
M101.2,21.4 100,20.4 97.8,17.8 98.6,16 99,10.5 M102.2,22.5 104,20.5 105,18.5 107.5,15.5 107.5,11.5 M100,20.4 101,17.8 104.5,17.8 105.6,14.3 102.5,14 102.7,12.3 M105.6,14.3 107.5,14 106,11 104.5,10.4 M100.2,6.4 101.5,5.8 102.1,6.2
M87.8,49.1 91,45.5 96.4,42.7 101,42.5 105,41.6 110.4,42.8 111.9,43.7 114,44.9 116.7,46.4 119.9,46.7 117.8,47.7 116.7,49.9
M87.8,49.1 90,50.6 94,50.5 98.3,52 102,51.5 107,50.2 110,49.2 114.4,50.3 116.7,49.9
M116.7,49.9 120,52.7 124,53.4 127.5,49.7 130.7,48.9 133,48.2 134.7,48.3 133.1,45.1 131,44.9 131,42.7 130.6,42.4
M130.6,42.4 128,41.9 124.3,39.9 M124.7,38 126.6,37.8 128.4,38.6
M87.3,49.2 85.8,47.3 82.5,45.4 80.3,45 80.2,42.2 75.5,40.5 73.6,39.5 74.9,37.3 74.5,37
M48,46.5 47,48 46.5,48.5 50,51 55,50.8 61,52 61,54 65.2,54.7 70,55 73.5,54 76.7,51.8 80.5,51 83.4,51 87.3,49.2 87.8,49.1
M52.8,41.3 56,41.3 56,45 58.5,45.6 61,44.4 62,43.5 66,42.9 68.4,40.6 71,42.8 74.3,43.2 80.2,42.2 M56,41.3 58.6,42.7 61.2,41.2 63,39.3 66.5,37.4 M67.8,37.2 68.5,39.5 71,40.2 73.6,39.5
M40,43.4 44,42.7 46.5,41.9 48.5,41.8 M41.5,41.5 43.5,41.1 46.5,41.2 M44.8,39.7 46.5,39 46,41
M28.1,59.4 27.7,57.6 28.2,56.2 30.8,55.6 31.7,53.2 35.3,52.3 37.3,50.3 40,49.6 39.7,47.9 38.2,47.1
M28.5,69 29.3,67.5 29.7,64.5 31.5,62.8 27.8,60.5 M20.6,69.1 18,68.5 16.5,67.5 14,65 12.3,63.5 12.5,61.5 11.2,59.1 M20.6,69.1 23.6,67.9 24,65.8 M20.6,69.1 24,68.6 27,69.9 28.5,69 30.5,69.7
M21,56.1 26.6,55.7 28.2,56.2 M24.3,57.9 27.4,57.5 M23.6,53.9 26.6,55.7 M21,55.3 22.8,54.4 23.6,53.9 M19.6,54.4 22.8,54.4
M23.6,53.9 23.5,52 24,50.8 22.8,49.1 M23.6,51.6 27,51.6 30.6,51.3 31.7,52.1
M14.2,53.9 14.6,52 15,51.1 18.8,49.5 22.8,49.1 M12.1,50.3 13.8,48.8 13,47.5 10.5,47.5 7.6,47.6 M12.1,50.3 15,51.1
M7,53.3 6.8,52 6,50.8 6.4,49.5 8.2,49 7.6,47.6 M8.6,54.9 9.9,54.8 M2.5,51 4.2,49.9 5.8,49.5 6.4,49.5 M3.4,51.4 6,50.8
M-1.8,43.4 0.7,42.8 3.2,42.4 M7.5,43.8 6.9,44.6 7,45.9 9,46.4 10.5,46.5 9.5,47.3 7.6,47.6 6,46.3 7,45.9
M10.5,46.8 12.3,47 13.7,46.5 16,46.8 16.9,48.6 M13.8,48.8 15,49 16.9,48.6 18.8,49.5 M16.1,46.9 17.2,48 18.8,47.8 22.1,48.4 22.8,47.9 21,46.2 18.8,45.9 17,45.8 16.1,46.9
M22.8,47.9 24.9,47.8 26.6,48.2 28.2,46.6 28.2,45.5 29.6,45.3 M21,46.2 22.5,44.5 25,43.7 27,44.1 28.6,43.7 M22.4,42.3 24,41.6 26.1,41.7 28,41.9
M19,45.9 19.4,44.9 19.6,43.2 20.8,42 22.4,42.3 22.5,44.5 M13.7,45.5 15.8,45.2 19,44.9 17.6,43 18.5,42.4 M20,39.7 21,40.8 22.4,41.3 22.4,42.3 M19.5,41.8 20.5,42.5 20.8,42 M26.6,48.2 27.5,48.5 29.6,45.3 M26,41.7 26.6,41.3 26.2,40.7
M-8.9,41.9 -6.6,42 -6.9,41 -7,39 -7.4,37.2 M-6,54 -7.5,54.1 -8,54.5 -7.3,55.2
M97.3,28.2 99,29 101,31 102,33 101,35 97,36 90,36.5 M104,28 106,30 108,32 110,33 M100,26 104,26 106,25 110,25 114,25 116,24 M110,33 114,32 118,34
M104,34 107,36 110,38 111,40 M114,37 116,39 118,40 M111,27 114,26.5 116,29 118,28 M108,30 111,29 113,30 116,31 M95,42 98,40 100,39 104,38 106,37 M117,42 120,42 123,43 125,45 127,47 M86,41 89,38 91,36.5
M141,-2.6 141,-9.1
M129,-14.9 129,-31.6 M129,-26 138,-26 M138,-16.5 138,-26 141,-26 141,-38 M141,-29 148.5,-29 153.5,-28.2 M141,-34 144,-36 148.2,-36.8 150,-37.5"/>
</g>

<use xlink:href="#land" transform="matrix(2.693 0 0 -3.2278 564.75 399.5)" fill="none" stroke="#000" stroke-width="0.36" stroke-linejoin="round"/>

<g fill="none" stroke="#2040ff" stroke-width="1">
<polyline points="810,290 823,287 833,284 845,282 852,277 852,270 858,270 864,272 864,283 862,293 872,293 883,290 892,283"/>
<polyline points="827,290 830,300 832,310 834,316 838,317 847,308 857,302 867,302 877,302 887,300 893,298"/>
</g>

<polyline fill="none" stroke="#000" stroke-width="1" points="237,640 250,641 263,642 275,640 287,637 300,638 313,638 330,638 347,638 357,634 363,637 367,638 375,632 383,627 390,620 397,613 405,606 413,600 415,598 410,603 405,612 403,620 403,630 402,637 395,643 390,645 375,648 355,650 340,653 345,656 363,658 385,663 407,668 418,666 430,662 437,656 443,653 450,655 463,658 476,657 490,657 500,652 513,643 530,636 547,630 570,629 597,628 615,628 630,627 645,624 657,622 665,623 673,625 690,620 700,615 710,613 725,615 740,618 750,620 748,628 748,635 755,628 765,622 777,618 800,616 833,613 860,613 890,612 927,612 950,614 967,617 990,622 1010,628 1023,633 1013,637 1003,645 1008,650 1013,653 993,660 1000,664 1020,668 1047,672 1049,672"/>
<polyline fill="none" stroke="#000" stroke-width="1" points="340,640 352,641 358,644 348,646 340,644"/>
<polyline fill="none" stroke="#000" stroke-width="1" points="375,657 390,657 388,660 376,660"/>

<rect x="80" y="109" width="969.5" height="581" fill="none" stroke="#000" stroke-width="2"/>
<g stroke="#000" stroke-width="1.5">
<line x1="74" y1="109" x2="80" y2="109"/><line x1="74" y1="205.8" x2="80" y2="205.8"/><line x1="74" y1="302.7" x2="80" y2="302.7"/><line x1="74" y1="399.5" x2="80" y2="399.5"/><line x1="74" y1="496.3" x2="80" y2="496.3"/><line x1="74" y1="593.2" x2="80" y2="593.2"/><line x1="74" y1="690" x2="80" y2="690"/>
<line x1="80" y1="690" x2="80" y2="696"/><line x1="241.6" y1="690" x2="241.6" y2="696"/><line x1="403.2" y1="690" x2="403.2" y2="696"/><line x1="564.75" y1="690" x2="564.75" y2="696"/><line x1="726.3" y1="690" x2="726.3" y2="696"/><line x1="887.9" y1="690" x2="887.9" y2="696"/><line x1="1049.5" y1="690" x2="1049.5" y2="696"/>
</g>
<g font-family="'Liberation Serif', serif" font-size="15" fill="#000" stroke="#000" stroke-width="0.35" text-anchor="end">
<text x="71" y="115">90N</text><text x="71" y="211.5">60N</text><text x="71" y="308.5">30N</text><text x="71" y="405">EQ</text><text x="71" y="502">30S</text><text x="71" y="599">60S</text><text x="71" y="696">90S</text>
</g>
<g font-family="'Liberation Serif', serif" font-size="15" fill="#000" stroke="#000" stroke-width="0.35" text-anchor="middle">
<text x="81" y="710">180</text><text x="242" y="710">120W</text><text x="403" y="710">60W</text><text x="565" y="710">0</text><text x="726" y="710">60E</text><text x="888" y="710">120E</text><text x="1049" y="710">180</text>
</g>

<text x="592" y="106" font-family="'Liberation Serif', serif" font-size="10.5" textLength="425" lengthAdjust="spacingAndGlyphs">NATIONAL CLIMATE CENTER OF CHINA METEOROLOGICAL ADMINISTRATION</text>
<g font-family="'Liberation Sans','Noto Sans CJK SC',sans-serif" font-size="15" font-weight="bold">
<text x="695" y="125" textLength="77" lengthAdjust="spacingAndGlyphs">中国气象局</text>
<text x="793" y="125" textLength="95" lengthAdjust="spacingAndGlyphs">国家气候中心</text>
</g>
<text x="938" y="685" font-family="'Liberation Mono', monospace" font-size="11" textLength="62" lengthAdjust="spacingAndGlyphs">20050602</text>

<rect x="80" y="424.5" width="157" height="265.5" fill="#fff" stroke="#000" stroke-width="2"/>
<g font-family="'Liberation Sans','Noto Sans CJK SC',sans-serif" fill="#000">
<text x="122" y="454" font-size="17" font-weight="bold">图</text>
<text x="181" y="454" font-size="17" font-weight="bold">例</text>
</g>
<rect x="97" y="500" width="49" height="23" fill="#9a1a1a"/>
<rect x="97" y="525" width="49" height="23" fill="#ff0000"/>
<rect x="97" y="550" width="49" height="23" fill="#ff8000"/>
<rect x="97" y="575" width="49" height="23" fill="#ffff00"/>
<rect x="97" y="600" width="49" height="23" fill="#c8ffc8"/>
<g font-family="'Liberation Sans','Noto Sans CJK SC',sans-serif" font-size="17" fill="#000">
<text x="162" y="519">特</text><text x="197" y="519">旱</text>
<text x="162" y="544">重</text><text x="197" y="544">旱</text>
<text x="162" y="569">中</text><text x="197" y="569">旱</text>
<text x="162" y="594">轻</text><text x="197" y="594">旱</text>
<text x="162" y="619">无</text><text x="197" y="619">旱</text>
</g>
<text x="127" y="685" font-family="'Liberation Sans','Noto Sans CJK SC',sans-serif" font-size="12" font-weight="bold" textLength="71" lengthAdjust="spacingAndGlyphs">空白处无资料</text>

<g font-family="'Liberation Sans','Noto Sans CJK SC',sans-serif" font-size="19" font-weight="bold" fill="#000">
<text x="337" y="747" textLength="133" lengthAdjust="spacingAndGlyphs">全球干旱监测图</text>
</g>
<text x="511" y="747" font-family="'Liberation Mono','Noto Sans CJK SC',monospace" font-size="19" textLength="224" lengthAdjust="spacing">2005年06月01日监测</text>
<text x="294" y="774" font-family="'Liberation Mono', monospace" font-size="21" textLength="638" lengthAdjust="spacing">Map of Global Drought Monitor 2005.06.01</text>
</svg>
</body></html>
